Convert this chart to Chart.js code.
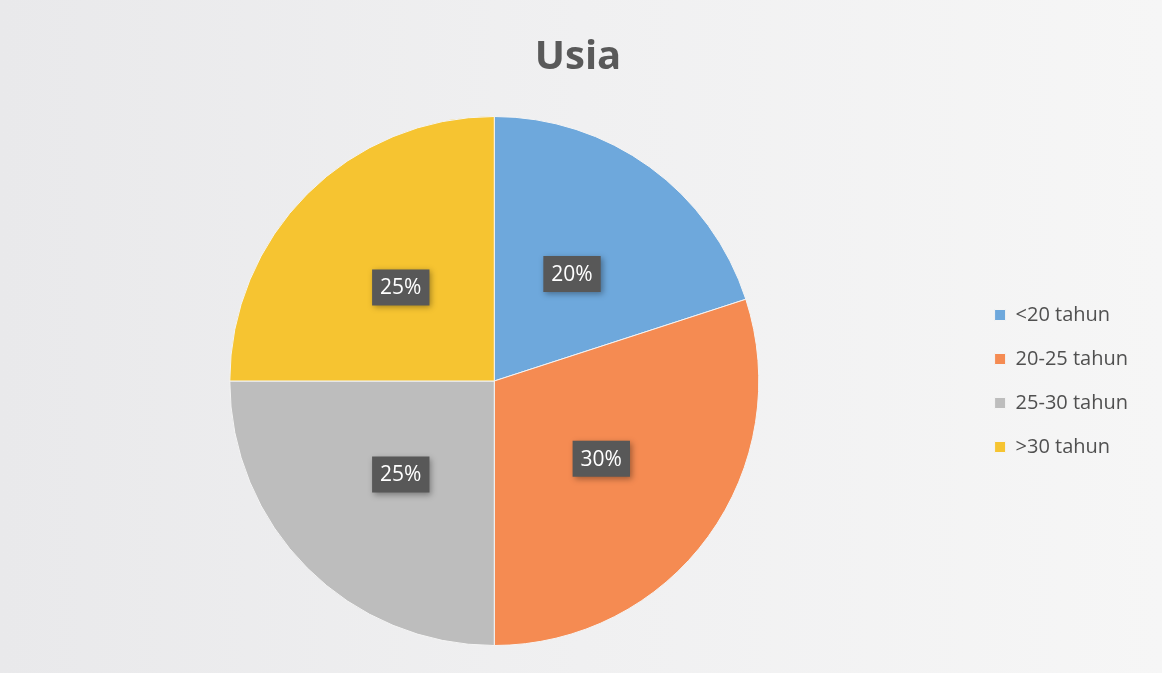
<!DOCTYPE html>
<html>
<head>
<meta charset="utf-8">
<script src="https://cdn.jsdelivr.net/npm/chart.js@4"></script>
<style>
  html, body { margin: 0; padding: 0; }
  body { width: 1162px; height: 673px; background: linear-gradient(90deg, #e9e9eb 0%, #f0f0f1 50%, #f6f6f6 100%); }
  #wrap { width: 1162px; height: 673px; position: relative; }
</style>
</head>
<body>
<div id="wrap"><canvas id="chart"></canvas></div>
<script>
const categories = ['<20 tahun', '20-25 tahun', '25-30 tahun', '>30 tahun'];
const values = [20, 30, 25, 25];
const sliceColors = ['#6ea8dc', '#f58b52', '#bdbdbd', '#f6c431'];

// percentage boxes in the middle of each slice
const sliceLabels = {
  id: 'sliceLabels',
  afterDatasetsDraw(chart) {
    const ctx = chart.ctx;
    const meta = chart.getDatasetMeta(0);
    const total = values.reduce((a, b) => a + b, 0);
    ctx.save();
    ctx.font = '21px "Open Sans"';
    ctx.textAlign = 'center';
    ctx.textBaseline = 'middle';
    meta.data.forEach((arc, i) => {
      const p = arc.getCenterPoint();
      const txt = Math.round(values[i] / total * 100) + '%';
      const w = ctx.measureText(txt).width + 16;
      const h = 36;
      ctx.shadowColor = 'rgba(0,0,0,0.35)';
      ctx.shadowBlur = 6;
      ctx.shadowOffsetX = 2;
      ctx.shadowOffsetY = 2;
      ctx.fillStyle = '#585858';
      ctx.fillRect(p.x - w / 2, p.y - h / 2, w, h);
      ctx.shadowColor = 'transparent';
      ctx.fillStyle = '#ffffff';
      ctx.fillText(txt, p.x, p.y + 1);
    });
    ctx.restore();
  }
};

new Chart(document.getElementById('chart'), {
  type: 'pie',
  data: {
    labels: categories,
    datasets: [{
      data: values,
      backgroundColor: sliceColors,
      borderColor: '#f4f4f4',
      borderWidth: 1
    }]
  },
  options: {
    responsive: true,
    maintainAspectRatio: false,
    animation: false,
    layout: { padding: { top: 20, bottom: 27, left: 18, right: 24 } },
    plugins: {
      title: {
        display: true,
        text: 'Usia',
        color: '#595959',
        font: { family: 'Open Sans', size: 40, weight: 'bold', lineHeight: 1.2 },
        padding: { top: 14, bottom: 34 }
      },
      legend: {
        position: 'right',
        // empty legend title only pushes the entries down
        title: {
          display: true,
          text: ' ',
          padding: 0,
          font: { size: 80, lineHeight: 1.2 }
        },
        labels: {
          boxWidth: 11,
          boxHeight: 11,
          padding: 24,
          color: '#505050',
          font: { family: 'Open Sans', size: 20 }
        }
      },
      tooltip: { enabled: false }
    }
  },
  plugins: [sliceLabels]
});
</script>
</body>
</html>
